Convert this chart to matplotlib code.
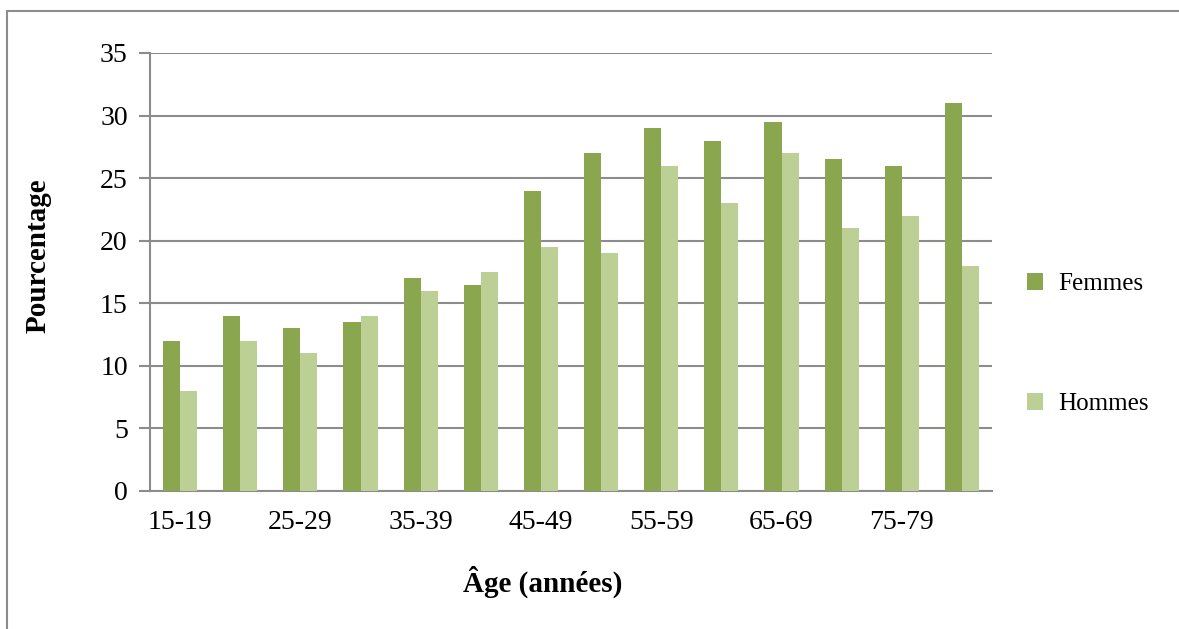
import matplotlib.pyplot as plt
import numpy as np
from matplotlib.patches import Rectangle

# données
categories = ["15-19", "20-24", "25-29", "30-34", "35-39", "40-44", "45-49",
              "50-54", "55-59", "60-64", "65-69", "70-74", "75-79", "80+"]
femmes = [12, 14, 13, 13.5, 17, 16.5, 24, 27, 29, 28, 29.5, 26.5, 26, 31]
hommes = [8, 12, 11, 14, 16, 17.5, 19.5, 19, 26, 23, 27, 21, 22, 18]

plt.rcParams["font.family"] = ["Liberation Serif", "DejaVu Serif"]

fig = plt.figure(figsize=(11.79, 6.29), dpi=100)
W, H = 1179, 629
ax = fig.add_axes([150 / W, 1 - 491 / H, (992 - 150) / W, (491 - 53) / H])

x = np.arange(len(categories))
w = 0.285
ax.bar(x - w / 2, femmes, w, color="#8AA64F", label="Femmes", zorder=3)
ax.bar(x + w / 2, hommes, w, color="#BCD095", label="Hommes", zorder=3)

ax.set_xlim(-0.5, len(categories) - 0.5)
ax.set_ylim(0, 35)
ax.set_yticks(range(0, 36, 5))
ax.set_xticks(x)
ax.set_xticklabels([c if i % 2 == 0 else "" for i, c in enumerate(categories)])
ax.tick_params(axis="x", length=0, labelsize=20, pad=14)
ax.tick_params(axis="y", length=8, color="#8C8C8C", width=1.5, labelsize=20, pad=8)
ax.yaxis.grid(True, color="#8C8C8C", linewidth=1.5, zorder=0)
for s in ["top", "right"]:
    ax.spines[s].set_visible(False)
for s in ["left", "bottom"]:
    ax.spines[s].set_color("#8C8C8C")
    ax.spines[s].set_linewidth(1.5)

# titres des axes
fig.text(543 / W, 1 - 582 / H, "Âge (années)", fontsize=21, fontweight="bold",
         ha="center", va="center")
fig.text(38 / W, 1 - 256 / H, "Pourcentage", fontsize=21, fontweight="bold",
         rotation=90, ha="center", va="center")

fig.legend(loc="center left", bbox_to_anchor=(1004 / W, 1 - 344 / H), frameon=False,
           fontsize=18, handlelength=0.65, handleheight=0.7, handletextpad=0.6,
           labelspacing=3.9)

# cadre du graphique
fig.patches.append(Rectangle((7 / W, -0.1), 1.2, 1 - 11 / H + 0.1, transform=fig.transFigure,
                             fill=False, edgecolor="#8C8C8C", linewidth=1.5))

fig.savefig("out.png", dpi=100)
